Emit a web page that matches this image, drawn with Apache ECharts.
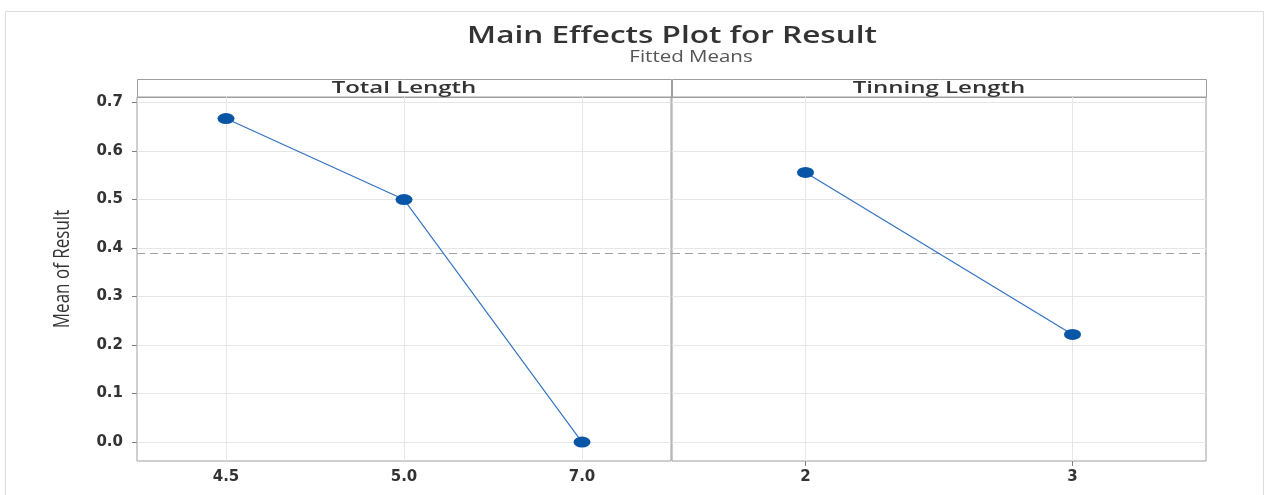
<!DOCTYPE html>
<html><head><meta charset="utf-8">
<script src="https://cdn.jsdelivr.net/npm/echarts@6/dist/echarts.min.js"></script>
<style>html,body{margin:0;padding:0;background:#fff}#c{width:1266px;height:495px}</style>
</head><body><div id="c"></div><script>
const titleText = 'Main Effects Plot for Result';
const subtitleText = 'Fitted Means';
const yAxisTitle = 'Mean of Result';
const factorNames = ['Total Length', 'Tinning Length'];
const totalLengthLevels = ['4.5', '5.0', '7.0'];
const totalLengthMeans = [0.667, 0.500, 0.000];
const tinningLengthLevels = ['2', '3'];
const tinningLengthMeans = [0.556, 0.222];
const overallMean = 0.389;
const yTicks = [0, 0.1, 0.2, 0.3, 0.4, 0.5, 0.6, 0.7];

const chart = echarts.init(document.getElementById('c'), null, {renderer: 'canvas'});
const FRAME = '#9e9e9e', GRIDC = '#e6e6e6', TXT = '#333333', TICKC = '#808080';
const panels = [
  {levels: totalLengthLevels, means: totalLengthMeans, left: 137, showTick: false},
  {levels: tinningLengthLevels, means: tinningLengthMeans, left: 672, showTick: true}
];
const PW = 534, TOP = 97, PH = 364;

const grids = panels.map(p => ({left: p.left, top: TOP, width: PW, height: PH, show: true,
  borderColor: FRAME, borderWidth: 1, backgroundColor: 'transparent', containLabel: false}));
const xAxes = panels.map((p, gi) => {
  const idx = p.levels.map((_, i) => i);
  return {type: 'value', gridIndex: gi, min: -0.5, max: p.levels.length - 0.5, position: 'bottom',
    axisLine: {show: false, onZero: false},
    axisTick: {show: p.showTick, inside: false, customValues: idx, length: 5, lineStyle: {color: TICKC, width: 1}},
    axisLabel: {customValues: idx, formatter: v => p.levels[Math.round(v)], margin: 9,
      color: TXT, fontFamily: 'DejaVu Sans', fontWeight: 'bold', fontSize: 15},
    splitLine: {show: true, lineStyle: {color: GRIDC, width: 1}}};
});
const yAxes = panels.map((p, gi) => ({type: 'value', gridIndex: gi, min: -0.039, max: 0.7115, position: 'left',
  axisLine: {show: false, onZero: false},
  axisTick: {show: gi === 0, inside: false, customValues: yTicks, length: 5, lineStyle: {color: TICKC, width: 1}},
  axisLabel: {show: gi === 0, customValues: yTicks, formatter: v => v.toFixed(1), margin: 14,
    color: TXT, fontFamily: 'DejaVu Sans', fontWeight: 'bold', fontSize: 15},
  splitLine: {show: true, lineStyle: {color: GRIDC, width: 1}}}));
const series = panels.map((p, gi) => ({type: 'line', xAxisIndex: gi, yAxisIndex: gi,
  data: p.means.map((v, i) => [i, v]),
  symbol: 'circle', symbolSize: [17, 11], showSymbol: true,
  itemStyle: {color: '#0a56a6'}, lineStyle: {color: '#2f70c0', width: 1.1},
  emphasis: {disabled: true}, animation: false, z: 5,
  markLine: {silent: true, symbol: 'none', animation: false, label: {show: false},
    lineStyle: {color: '#a3a3a3', type: [8, 5], width: 1},
    data: [{yAxis: overallMean}]}}));

const graphics = [
  {type: 'rect', shape: {x: 5.5, y: 11.5, width: 1258, height: 500}, style: {fill: 'none', stroke: '#dddddd', lineWidth: 1}, silent: true},
  {type: 'text', x: 672, y: 36, style: {text: titleText, fill: '#333', font: '600 23px "Open Sans"', align: 'center', verticalAlign: 'middle'}, scaleX: 1.37},
  {type: 'text', x: 691, y: 57, style: {text: subtitleText, fill: '#555', font: '400 16px "Open Sans"', align: 'center', verticalAlign: 'middle'}, scaleX: 1.28},
  {type: 'text', x: 63, y: 269, rotation: Math.PI / 2, style: {text: yAxisTitle, fill: TXT, font: '400 17px "Open Sans"', align: 'center', verticalAlign: 'middle'}, scaleY: 1.25}
];
panels.forEach((p, gi) => {
  graphics.push({type: 'rect', shape: {x: p.left + 0.5, y: 79.5, width: PW, height: TOP - 79}, style: {fill: 'none', stroke: FRAME, lineWidth: 1}, silent: true});
  graphics.push({type: 'text', x: p.left + PW / 2, y: 88, style: {text: factorNames[gi], fill: TXT, font: '600 16px "Open Sans"', align: 'center', verticalAlign: 'middle'}, scaleX: 1.5});
});

chart.setOption({backgroundColor: '#ffffff', animation: false,
  grid: grids, xAxis: xAxes, yAxis: yAxes, series: series, graphic: graphics});
</script></body></html>
